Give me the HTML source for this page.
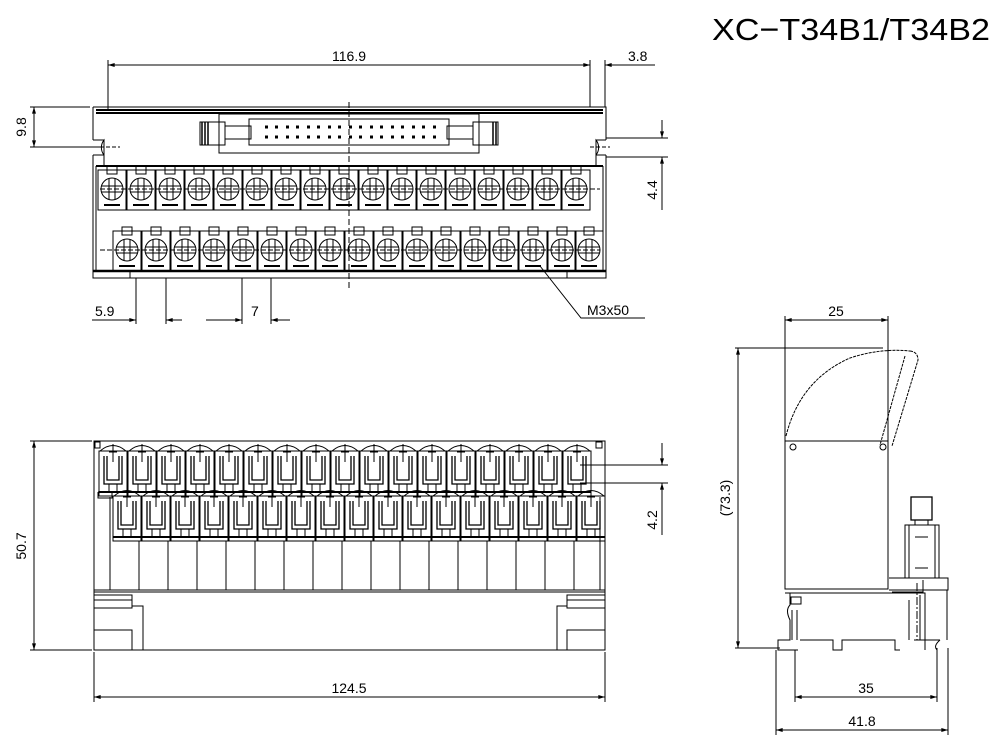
<!DOCTYPE html>
<html><head><meta charset="utf-8"><style>
html,body{margin:0;padding:0;background:#fff}
svg{display:block}
text{font-family:"Liberation Sans",sans-serif;fill:#000;stroke:none}
</style></head><body>
<svg width="1000" height="746" viewBox="0 0 1000 746" xmlns="http://www.w3.org/2000/svg" fill="none" stroke="#000" stroke-width="1">
<defs>
<marker id="a" viewBox="0 0 10 6" refX="10" refY="3" markerWidth="8" markerHeight="4" orient="auto-start-reverse"><path d="M0,0L10,3L0,6z" fill="#000" stroke="none"/></marker>
<g id="tt">
  <rect x="-14" y="-19" width="28" height="40"/>
  <rect x="-5" y="-23" width="10" height="8"/>
  <circle cx="0" cy="0" r="11"/>
  <path d="M-3,-11V11M3,-11V11M-11,-3H11M-11,3H11"/>
  <path d="M-8,16H8" stroke-width="2"/>
</g>
<g id="ft">
  <path d="M-13,-1 Q0,-12 13,-1"/>
  <rect x="-14" y="-1" width="28" height="45"/>
  <path d="M-9,4V32H9V4M-6,4V28H6V4" stroke-width="1.3"/>
  <rect x="-4" y="32" width="8" height="8"/>
  <path d="M0,-8V10M-4,0H4"/>
  <path d="M-14,40H14" stroke-width="2"/>
</g>
</defs>

<text x="712" y="40" font-size="31" textLength="278" lengthAdjust="spacingAndGlyphs">XC−T34B1/T34B2</text>

<!-- TOP VIEW -->
<g>
  <path d="M93,107H606V140M93,107V140" stroke-width="1"/>
  <path d="M96,110H603M96,113H603" stroke-width="2"/>
  <path d="M93,155V278H606V155"/>
  <path d="M96,166H603" stroke-width="2"/>
  <path d="M96,166V272M603,166V272"/>
  <path d="M93,271H606" stroke-width="2.5"/>
  <rect x="93" y="271" width="37" height="7"/><rect x="567" y="271" width="39" height="7"/>
  <path d="M104,166V140 A12,12 0 0 0 104,155 M93,140H104 M93,155H104"/>
  <path d="M596,166V140 A12,12 0 0 1 596,155 M596,140H606 M596,155H606"/>
  <path d="M100,147H120M590,147H610" stroke-dasharray="4,2"/>
  <rect x="219" y="114" width="260" height="39"/>
  <rect x="249" y="119" width="200" height="26"/>
  <rect x="200" y="122" width="25" height="23"/><rect x="473" y="122" width="25" height="23"/>
  <path d="M202,122V145M205,122V145M208,122V145M493,122V145M496,122V145" stroke-width="1.5"/>
  <rect x="225" y="126" width="26" height="13"/><rect x="447" y="126" width="26" height="13"/>
  <path d="M265,127h3M275,127h3M286,127h3M296,127h3M307,127h3M317,127h3M328,127h3M338,127h3M349,127h3M359,127h3M370,127h3M380,127h3M391,127h3M401,127h3M412,127h3M422,127h3M433,127h3M265,137h3M275,137h3M286,137h3M296,137h3M307,137h3M317,137h3M328,137h3M338,137h3M349,137h3M359,137h3M370,137h3M380,137h3M391,137h3M401,137h3M412,137h3M422,137h3M433,137h3" stroke-width="3"/>
  <path d="M349,102V290" stroke-dasharray="6,3"/>
  <path d="M100,189H600M100,250H600" stroke-dasharray="5,2"/>
  <use href="#tt" x="112" y="189"/><use href="#tt" x="141" y="189"/><use href="#tt" x="170" y="189"/><use href="#tt" x="199" y="189"/><use href="#tt" x="228" y="189"/><use href="#tt" x="257" y="189"/><use href="#tt" x="286" y="189"/><use href="#tt" x="315" y="189"/><use href="#tt" x="344" y="189"/><use href="#tt" x="373" y="189"/><use href="#tt" x="402" y="189"/><use href="#tt" x="431" y="189"/><use href="#tt" x="460" y="189"/><use href="#tt" x="489" y="189"/><use href="#tt" x="518" y="189"/><use href="#tt" x="547" y="189"/><use href="#tt" x="576" y="189"/>
  <use href="#tt" x="127" y="250"/><use href="#tt" x="156" y="250"/><use href="#tt" x="185" y="250"/><use href="#tt" x="214" y="250"/><use href="#tt" x="243" y="250"/><use href="#tt" x="272" y="250"/><use href="#tt" x="301" y="250"/><use href="#tt" x="330" y="250"/><use href="#tt" x="359" y="250"/><use href="#tt" x="388" y="250"/><use href="#tt" x="417" y="250"/><use href="#tt" x="446" y="250"/><use href="#tt" x="475" y="250"/><use href="#tt" x="504" y="250"/><use href="#tt" x="533" y="250"/><use href="#tt" x="562" y="250"/><use href="#tt" x="589" y="250"/>
</g>
<path d="M108,60V110M590,60V107M605,60V107"/>
<path d="M108,65H590" marker-start="url(#a)" marker-end="url(#a)"/>
<path d="M622,65H605" marker-end="url(#a)"/><path d="M622,65H655"/>
<text x="349" y="61" font-size="14" text-anchor="middle">116.9</text>
<text x="628" y="61" font-size="14">3.8</text>
<path d="M30,107H90M30,147H100"/>
<path d="M34,107V147" marker-start="url(#a)" marker-end="url(#a)"/>
<text font-size="14" transform="translate(26,127) rotate(-90)" text-anchor="middle">9.8</text>
<path d="M606,138H668M606,157H668"/>
<path d="M662,120V138" marker-end="url(#a)"/><path d="M662,175V157" marker-end="url(#a)"/><path d="M662,157V210"/>
<text font-size="14" transform="translate(657,190) rotate(-90)" text-anchor="middle">4.4</text>
<path d="M136,278V324M166,278V324M242,278V324M271,278V324"/>
<path d="M92,320H136" /><path d="M120,320H136" marker-end="url(#a)"/><path d="M182,320H166" marker-end="url(#a)"/><path d="M166,320H177"/>
<path d="M226,320H242" marker-end="url(#a)"/><path d="M206,320H226"/><path d="M287,320H271" marker-end="url(#a)"/><path d="M271,320H290"/>
<text x="95" y="316" font-size="14">5.9</text>
<text x="251" y="316" font-size="14">7</text>
<path d="M540,266L581,318H645"/>
<text x="587" y="315" font-size="14">M3x50</text>

<!-- FRONT VIEW -->
<rect x="94" y="441" width="511" height="209"/>
<rect x="95" y="442" width="5" height="6"/><rect x="596" y="442" width="6" height="6"/>
<path d="M94,590H605M94,592H605"/>
<path d="M94,595H132V608H94M94,600H132M132,606H143V650M94,630H132V650"/>
<path d="M605,595H567V608H605M605,600H567M567,606H557V650M605,630H567V650"/>
<path d="M98,492H112V498H98V492" />
<use href="#ft" x="113" y="452"/><use href="#ft" x="142" y="452"/><use href="#ft" x="171" y="452"/><use href="#ft" x="200" y="452"/><use href="#ft" x="229" y="452"/><use href="#ft" x="258" y="452"/><use href="#ft" x="287" y="452"/><use href="#ft" x="316" y="452"/><use href="#ft" x="345" y="452"/><use href="#ft" x="374" y="452"/><use href="#ft" x="403" y="452"/><use href="#ft" x="432" y="452"/><use href="#ft" x="461" y="452"/><use href="#ft" x="490" y="452"/><use href="#ft" x="519" y="452"/><use href="#ft" x="548" y="452"/><use href="#ft" x="577" y="452"/>
<use href="#ft" x="127" y="497"/><use href="#ft" x="156" y="497"/><use href="#ft" x="185" y="497"/><use href="#ft" x="214" y="497"/><use href="#ft" x="243" y="497"/><use href="#ft" x="272" y="497"/><use href="#ft" x="301" y="497"/><use href="#ft" x="330" y="497"/><use href="#ft" x="359" y="497"/><use href="#ft" x="388" y="497"/><use href="#ft" x="417" y="497"/><use href="#ft" x="446" y="497"/><use href="#ft" x="475" y="497"/><use href="#ft" x="504" y="497"/><use href="#ft" x="533" y="497"/><use href="#ft" x="562" y="497"/><use href="#ft" x="591" y="497"/>
<path d="M110,497V590M139,541V590M168,541V590M197,541V590M226,541V590M255,541V590M284,541V590M313,541V590M342,541V590M371,541V590M400,541V590M429,541V590M458,541V590M487,541V590M516,541V590M545,541V590M574,541V590M600,497V590"/>
<path d="M30,441H92M30,650H92"/>
<path d="M34,441V650" marker-start="url(#a)" marker-end="url(#a)"/>
<text font-size="14" transform="translate(26,546) rotate(-90)" text-anchor="middle">50.7</text>
<path d="M94,652V702M605,652V702"/>
<path d="M94,697H605" marker-start="url(#a)" marker-end="url(#a)"/>
<text x="349" y="693" font-size="14" text-anchor="middle">124.5</text>
<path d="M580,465H668M580,483H668"/>
<path d="M662,443V465" marker-end="url(#a)"/><path d="M662,505V483" marker-end="url(#a)"/><path d="M662,483V535"/>
<text font-size="14" transform="translate(657,520) rotate(-90)" text-anchor="middle">4.2</text>

<!-- SIDE VIEW -->
<path d="M785,316V447M888,316V447"/>
<path d="M785,320H888" marker-start="url(#a)" marker-end="url(#a)"/>
<text x="836" y="316" font-size="14" text-anchor="middle">25</text>
<rect x="785" y="441" width="103" height="148"/>
<path d="M786,436 Q800,380 850,358 Q880,348 910,351" stroke-dasharray="3,1"/>
<path d="M910,351 Q918,352 918,360 L892,446 M905,356 L880,445" stroke-dasharray="3,1"/>
<circle cx="793" cy="447" r="3"/><circle cx="883" cy="447" r="3"/>
<path d="M735,348H883M735,648H780"/>
<path d="M738,348V648" marker-start="url(#a)" marker-end="url(#a)"/>
<text font-size="14" transform="translate(730,498) rotate(-90)" text-anchor="middle">(73.3)</text>
<rect x="911" y="497" width="21" height="23" stroke-width="1.3"/>
<path d="M915,520V525M928,520V525"/>
<rect x="905" y="525" width="34" height="53"/>
<path d="M909,525V578M935,525V578M915,537H928M915,568H928"/>
<path d="M889,578H948V590H889M935,590H947V640M892,592H923V580"/>
<path d="M785,593H925V650M790,593V605Q785,610 790,620V640H778V650H798"/>
<path d="M792,610V640M797,610V640M800,640H833V650H842V640H895V650H900"/>
<rect x="791" y="597" width="10" height="7"/>
<path d="M909,600V640M920,595V640M914,640H940M940,640Q933,646 937,650"/>
<path d="M917,583V640" stroke-dasharray="8,2,2,2"/>
<path d="M776,650V735M795,650V702M937,648V702M948,648V735"/>
<path d="M795,697H937" marker-start="url(#a)" marker-end="url(#a)"/>
<path d="M776,730H948" marker-start="url(#a)" marker-end="url(#a)"/>
<text x="866" y="693" font-size="14" text-anchor="middle">35</text>
<text x="862" y="726" font-size="14" text-anchor="middle">41.8</text>
</svg>
</body></html>
